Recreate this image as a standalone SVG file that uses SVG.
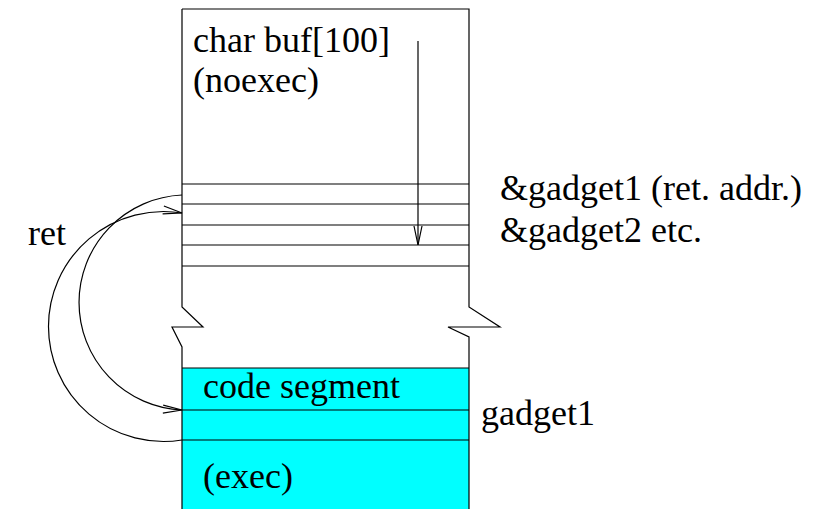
<svg xmlns="http://www.w3.org/2000/svg" width="828" height="509" viewBox="0 0 828 509">
<style>
.ln{fill:none;stroke:#000;stroke-width:1.2}
.t{font-family:"Liberation Serif","Times New Roman",serif;font-size:36px;fill:#000}
</style>
<defs>
<marker id="ah" markerUnits="userSpaceOnUse" markerWidth="22" markerHeight="12" refX="19" refY="4" orient="auto" overflow="visible">
<path d="M0,0 L19,4 L0,8" fill="none" stroke="#000" stroke-width="1.2"/>
</marker>
</defs>
<rect width="828" height="509" fill="#fff"/>
<g id="stack">
<rect x="182" y="368" width="287" height="145" fill="#00ffff"/>
<path class="ln" d="M182,9 L469,9 L469,307 L500,327 L448,327 L469,337 L469,513"/>
<path class="ln" d="M182,9 L182,307 L203,327 L172,327 L182,347 L182,513"/>
<path class="ln" d="M182,184 H469 M182,204 H469 M182,225 H469 M182,245 H469 M182,266 H469"/>
<path class="ln" d="M182,368 H469 M182,410 H469 M182,440 H469"/>
<text class="t" x="193" y="52">char buf[100]</text>
<text class="t" x="193" y="92">(noexec)</text>
<text class="t" x="203" y="398">code segment</text>
<text class="t" x="203" y="488">(exec)</text>
</g>
<g id="labels">
<text class="t" x="500" y="200">&amp;gadget1 (ret. addr.)</text>
<text class="t" x="500" y="242">&amp;gadget2 etc.</text>
<text class="t" x="481" y="425">gadget1</text>
<text class="t" x="28" y="245">ret</text>
</g>
<g id="connectors">
<path class="ln" d="M418,41 L418,245" marker-end="url(#ah)"/>
<path class="ln" d="M182,195 A107.6,107.6 0 0,0 182,410" marker-end="url(#ah)"/>
<path class="ln" d="M182,440 A115,115 0 1,1 182,213" marker-end="url(#ah)"/>
</g>
</svg>
